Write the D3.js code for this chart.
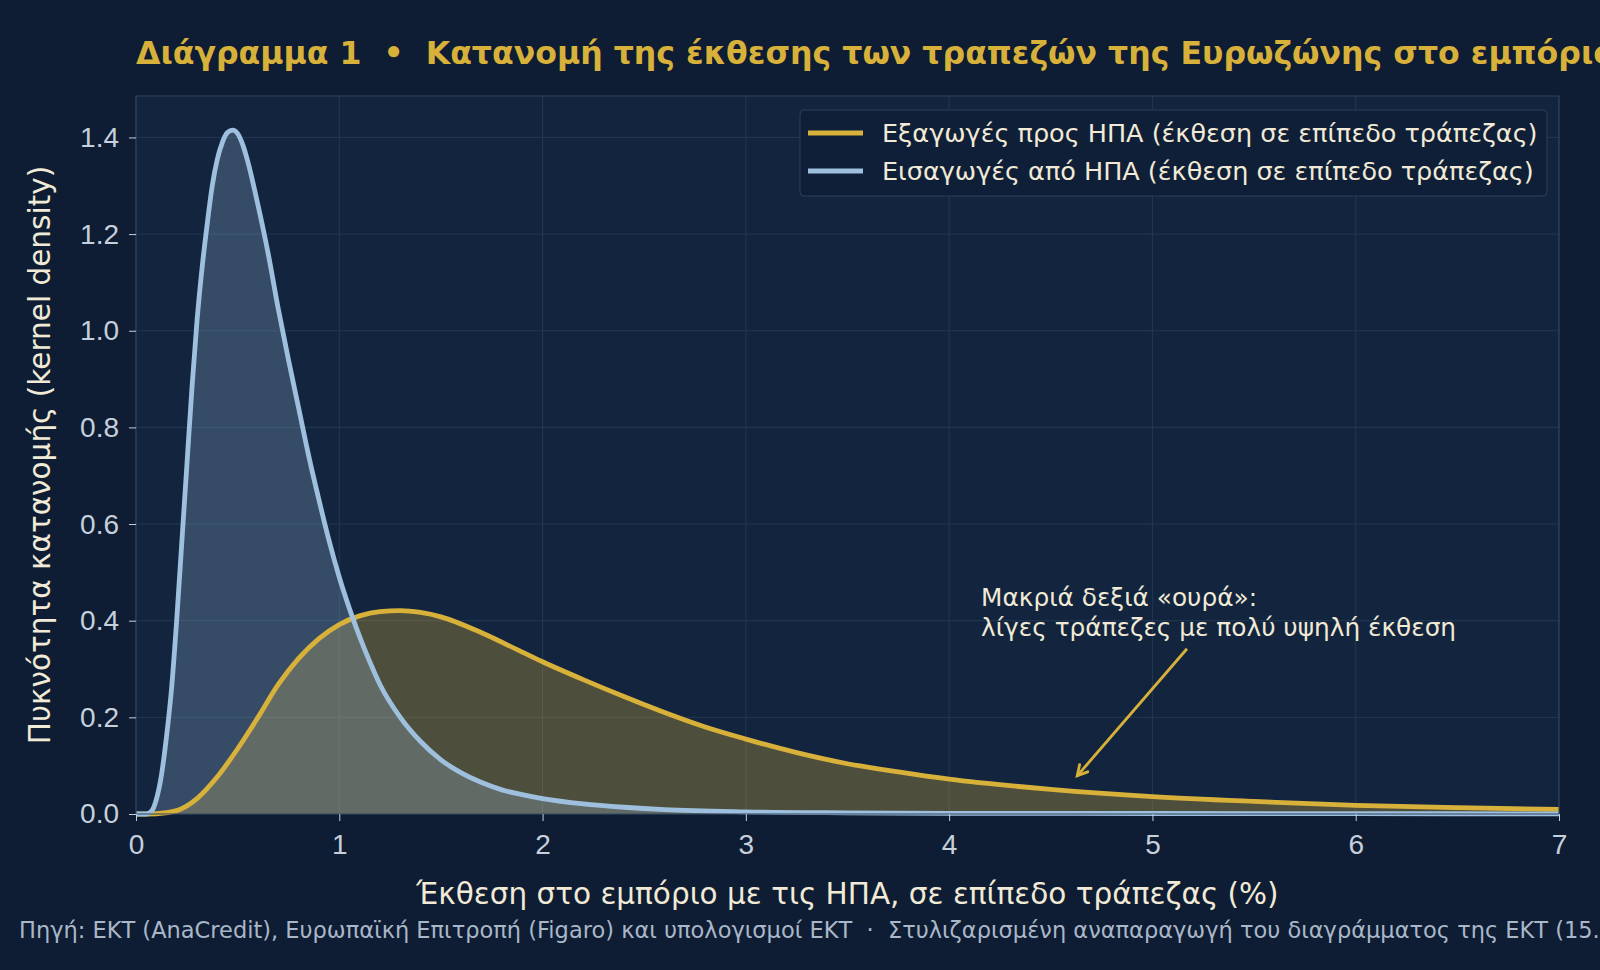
<!DOCTYPE html>
<html>
<head>
<meta charset="utf-8">
<script src="https://cdn.jsdelivr.net/npm/d3@7/dist/d3.min.js"></script>
<style>
	body { margin:0; background:#0e1d33; }
	svg { display:block; font-family:"DejaVu Sans", sans-serif; }
	.tick text { fill:#c6d0dc; font-size:28px; }
	.tick line { stroke:#c6d0dc; }
	.domain { display:none; }
</style>
</head>
<body>
<div id="chart"></div>
<script>
// ---------- data ----------
const seriesNames = ["Εξαγωγές προς ΗΠΑ (έκθεση σε επίπεδο τράπεζας)",
                     "Εισαγωγές από ΗΠΑ (έκθεση σε επίπεδο τράπεζας)"];

const exportX = [0, 0.1, 0.2, 0.3, 0.4, 0.5, 0.6, 0.7, 0.8, 0.9, 1.0, 1.1, 1.2, 1.3, 1.4, 1.5,
                 1.7, 1.9, 2.0, 2.2, 2.4, 2.6, 2.8, 3.0, 3.25, 3.5, 3.75, 4.0, 4.5, 5.0,
                 5.5, 6.0, 6.5, 7.0];
const exportY = [0, 0.0005, 0.007, 0.032, 0.077, 0.135, 0.2, 0.268, 0.322, 0.363, 0.392, 0.41, 0.419, 0.421, 0.417, 0.408,
                 0.375, 0.335, 0.315, 0.278, 0.243, 0.21, 0.18, 0.155, 0.127, 0.104, 0.087, 0.072, 0.051, 0.036,
                 0.026, 0.018, 0.013, 0.0095];

const importX = [0, 0.05, 0.075, 0.1, 0.125, 0.15, 0.175, 0.2, 0.225, 0.25, 0.275, 0.3, 0.325, 0.35,
                 0.375, 0.4, 0.425, 0.45, 0.475, 0.5, 0.525, 0.55, 0.6, 0.65, 0.7, 0.75, 0.8, 0.85,
                 0.9, 0.95, 1.0, 1.05, 1.1, 1.15, 1.2, 1.3, 1.4, 1.5, 1.6, 1.7, 1.8, 1.9, 2.0,
                 2.2, 2.4, 2.6, 3.0, 3.5, 4.0, 5.0, 6.0, 7.0];
const importY = [0, 0, 0.005, 0.03, 0.08, 0.16, 0.26, 0.4, 0.56, 0.72, 0.88, 1.02, 1.13, 1.22,
                 1.3, 1.355, 1.39, 1.41, 1.415, 1.408, 1.385, 1.35, 1.26, 1.16, 1.045, 0.94, 0.84, 0.74,
                 0.65, 0.565, 0.49, 0.425, 0.367, 0.315, 0.268, 0.2, 0.15, 0.112, 0.085, 0.065, 0.05, 0.04, 0.032,
                 0.021, 0.014, 0.009, 0.0045, 0.0025, 0.0015, 0.001, 0.0006, 0.0004];

const xTicks = [0, 1, 2, 3, 4, 5, 6, 7];
const yTicks = [0, 0.2, 0.4, 0.6, 0.8, 1.0, 1.2, 1.4];

const noteLines = ["Μακριά δεξιά «ουρά»:", "λίγες τράπεζες με πολύ υψηλή έκθεση"];
const noteText = [4.157, 0.43];
const noteArrow = [[5.17, 0.342], [4.63, 0.079]];

(function(){
	const GOLD = "#d8b13a",
	      BLUE = "#9ec0de",
	      CREAM = "#f1ead6";

	var margin = { top:96, left:136, right:41, bottom:156 },
		width = 1600,
		height = 970,
		innerW = width - margin.left - margin.right,
		innerH = height - margin.top - margin.bottom;

	var svg = d3.select("#chart")
				.append("svg")
				.attr("width", width)
				.attr("height", height);

	svg.append("rect")
	   .attr("width", width)
	   .attr("height", height)
	   .attr("fill", "#0e1d33");

	var x = d3.scaleLinear().domain([0, 7]).range([0, innerW]);
	var y = d3.scaleLinear().domain([0, 1.415 * 1.05]).range([innerH, 0]);

	const g = svg.append("g")
				 .attr("transform", "translate(" + margin.left + "," + margin.top + ")");

	g.append("rect")
	 .attr("width", innerW)
	 .attr("height", innerH)
	 .attr("fill", "#13253e");

	//---------grid------------
	g.append("g")
	 .selectAll("line.gx")
	 .data(xTicks)
	 .enter().append("line")
	 .attr("x1", d => x(d)).attr("x2", d => x(d))
	 .attr("y1", 0).attr("y2", innerH)
	 .attr("stroke", "#233853");

	g.append("g")
	 .selectAll("line.gy")
	 .data(yTicks)
	 .enter().append("line")
	 .attr("x1", 0).attr("x2", innerW)
	 .attr("y1", d => y(d)).attr("y2", d => y(d))
	 .attr("stroke", "#233853");

	//---------curves------------
	const exportData = exportX.map((v, i) => [v, exportY[i]]),
	      importData = importX.map((v, i) => [v, importY[i]]);

	var area = d3.area()
				 .x(d => x(d[0]))
				 .y0(y(0))
				 .y1(d => y(d[1]))
				 .curve(d3.curveMonotoneX);

	var line = d3.line()
				 .x(d => x(d[0]))
				 .y(d => y(d[1]))
				 .curve(d3.curveMonotoneX);

	g.append("path").datum(exportData)
	 .attr("d", area).attr("fill", GOLD).attr("fill-opacity", 0.3);
	g.append("path").datum(importData)
	 .attr("d", area).attr("fill", BLUE).attr("fill-opacity", 0.25);
	g.append("path").datum(exportData)
	 .attr("d", line).attr("fill", "none").attr("stroke", GOLD).attr("stroke-width", 4.8);
	g.append("path").datum(importData)
	 .attr("d", line).attr("fill", "none").attr("stroke", BLUE).attr("stroke-width", 4.8);

	// frame
	g.append("rect")
	 .attr("width", innerW)
	 .attr("height", innerH)
	 .attr("fill", "none")
	 .attr("stroke", "#2f435d");

	//---------axes------------
	g.append("g")
	 .attr("transform", "translate(0," + innerH + ")")
	 .call(d3.axisBottom(x).tickValues(xTicks).tickSize(7).tickPadding(13).tickFormat(d3.format("d")));

	g.append("g")
	 .call(d3.axisLeft(y).tickValues(yTicks).tickSize(7).tickPadding(10).tickFormat(d3.format(".1f")));

	svg.append("text")
	   .attr("x", margin.left + innerW / 2)
	   .attr("y", 904)
	   .attr("text-anchor", "middle")
	   .attr("fill", CREAM)
	   .style("font-size", "29.5px")
	   .text("Έκθεση στο εμπόριο με τις ΗΠΑ, σε επίπεδο τράπεζας (%)");

	svg.append("text")
	   .attr("transform", "translate(50," + (margin.top + innerH / 2) + ") rotate(-90)")
	   .attr("text-anchor", "middle")
	   .attr("fill", CREAM)
	   .style("font-size", "29.5px")
	   .text("Πυκνότητα κατανομής (kernel density)");

	//---------annotation------------
	svg.append("defs").append("marker")
	   .attr("id", "head")
	   .attr("markerUnits", "userSpaceOnUse")
	   .attr("markerWidth", 16).attr("markerHeight", 16)
	   .attr("refX", 12).attr("refY", 7)
	   .attr("orient", "auto")
	   .append("path")
	   .attr("d", "M1,1 L12,7 L1,13")
	   .attr("fill", "none")
	   .attr("stroke", GOLD)
	   .attr("stroke-width", 2.8);

	g.append("line")
	 .attr("x1", x(noteArrow[0][0])).attr("y1", y(noteArrow[0][1]))
	 .attr("x2", x(noteArrow[1][0])).attr("y2", y(noteArrow[1][1]))
	 .attr("stroke", GOLD)
	 .attr("stroke-width", 2.8)
	 .attr("marker-end", "url(#head)");

	g.append("text")
	 .attr("fill", CREAM)
	 .style("font-size", "24.8px")
	 .selectAll("tspan")
	 .data(noteLines)
	 .enter().append("tspan")
	 .attr("x", x(noteText[0]))
	 .attr("y", (d, i) => y(noteText[1]) + i * 30)
	 .text(d => d);

	//---------legend------------
	const legend = svg.append("g").attr("transform", "translate(800,110)");
	legend.append("rect")
		  .attr("width", 747).attr("height", 86)
		  .attr("rx", 4)
		  .attr("fill", "#0f1f37")
		  .attr("stroke", "#2c3f5a");

	const items = legend.selectAll("g.item")
						.data(seriesNames)
						.enter().append("g")
						.attr("transform", (d, i) => "translate(0," + (23 + i * 38) + ")");
	items.append("line")
		 .attr("x1", 8).attr("x2", 63)
		 .attr("stroke", (d, i) => i ? BLUE : GOLD)
		 .attr("stroke-width", 4.8);
	items.append("text")
		 .attr("x", 82).attr("y", 9)
		 .attr("fill", CREAM)
		 .style("font-size", "25.5px")
		 .text(d => d);

	//---------title & source------------
	svg.append("text")
	   .attr("x", 136).attr("y", 64)
	   .attr("fill", GOLD)
	   .style("font-size", "31.6px")
	   .style("font-weight", "bold")
	   .attr("xml:space", "preserve")
	   .text("Διάγραμμα 1  •  Κατανομή της έκθεσης των τραπεζών της Ευρωζώνης στο εμπόριο με τις ΗΠΑ");

	svg.append("text")
	   .attr("x", 19).attr("y", 938)
	   .attr("fill", "#a9b7c8")
	   .style("font-size", "22.5px")
	   .attr("xml:space", "preserve")
	   .text("Πηγή: ΕΚΤ (AnaCredit), Ευρωπαϊκή Επιτροπή (Figaro) και υπολογισμοί ΕΚΤ  ·  Στυλιζαρισμένη αναπαραγωγή του διαγράμματος της ΕΚΤ (15.5.2025)");
})();
</script>
</body>
</html>
